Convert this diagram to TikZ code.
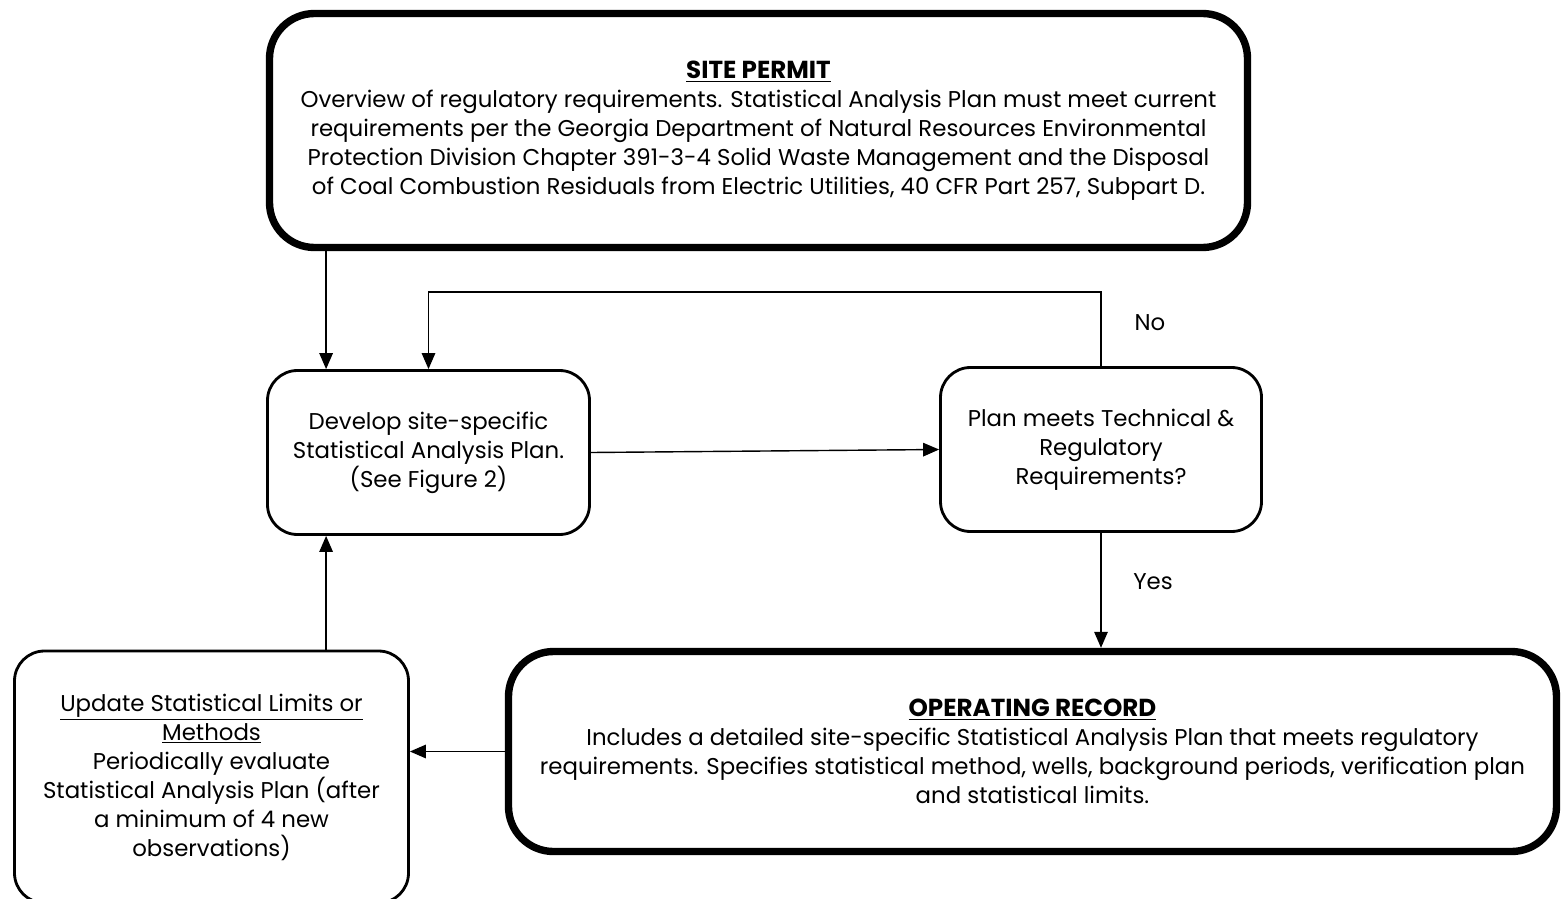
\documentclass[tikz,border=0pt]{standalone}
\usepackage{fontspec}
\setmainfont{Poppins}
\usetikzlibrary{arrows.meta}

\begin{document}
\begin{tikzpicture}[
    box/.style={draw,rounded corners=0.6cm,line width=1.6pt,align=center,
      font=\fontsize{13}{16.5}\selectfont,inner sep=0pt},
    bigbox/.style={box,line width=4.2pt,rounded corners=0.9cm},
    ttl/.style={font=\fontsize{14}{16.5}\selectfont\bfseries},
    arr/.style={line width=0.8pt,-{Triangle[length=0.32cm,width=0.27cm]}},
    lbl/.style={font=\fontsize{13}{16.5}\selectfont},]

    \useasboundingbox (0,0) rectangle (31.28,-17.98);

    \node[bigbox,minimum width=19.56cm,minimum height=4.68cm] (permit) at (15.17,-2.61)
    {{\fontsize{14}{16.5}\selectfont\bfseries\underline{SITE PERMIT}} \\
      Overview of regulatory requirements. Statistical Analysis Plan must meet current \\
      requirements per the Georgia Department of Natural Resources Environmental \\
      Protection Division Chapter 391-3-4 Solid Waste Management and the Disposal \\
      of Coal Combustion Residuals from Electric Utilities, 40 CFR Part 257, Subpart D.};

    \node[box,minimum width=6.44cm,minimum height=3.28cm] (develop) at (8.57,-9.05)
    {Develop site-specific \\
      Statistical Analysis Plan. \\
      (See Figure 2)};

    \node[box,minimum width=6.42cm,minimum height=3.28cm] (check) at (22.02,-8.99)
    {Plan meets Technical \& \\
      Regulatory \\
      Requirements?};

    \node[bigbox,minimum width=20.96cm,minimum height=4.0cm] (record) at (20.65,-15.03)
    {{\fontsize{14}{16.5}\selectfont\bfseries\underline{OPERATING RECORD}} \\
      Includes a detailed site-specific Statistical Analysis Plan that meets regulatory \\
      requirements. Specifies statistical method, wells, background periods, verification plan \\
      and statistical limits.};

    \node[box,minimum width=7.88cm,minimum height=5.04cm] (update) at (4.23,-15.54)
    {\underline{Update Statistical Limits or} \\
      \underline{Methods} \\
      Periodically evaluate \\
      Statistical Analysis Plan (after \\
      a minimum of 4 new \\
      observations)};

    \node[lbl] (no) at (23.0,-6.46) {No};
    \node[lbl] (yes) at (23.06,-11.64) {Yes};

    \coordinate (in1) at ([xshift=1.2cm]develop.north west);
    \coordinate (in2) at ([xshift=1.2cm]develop.south west);

    \draw[arr] (permit.south -| in1) -- (in1);
    \draw[arr] (check.north) -- ++(0,1.48) -| (develop.north);
    \draw[arr] (develop.east) -- (check.west);
    \draw[arr] (check.south) -- (check.south |- record.north);
    \draw[arr] (record.west) -- (record.west -| update.east);
    \draw[arr] (update.north -| in2) -- (in2);

  \end{tikzpicture}
\end{document}
